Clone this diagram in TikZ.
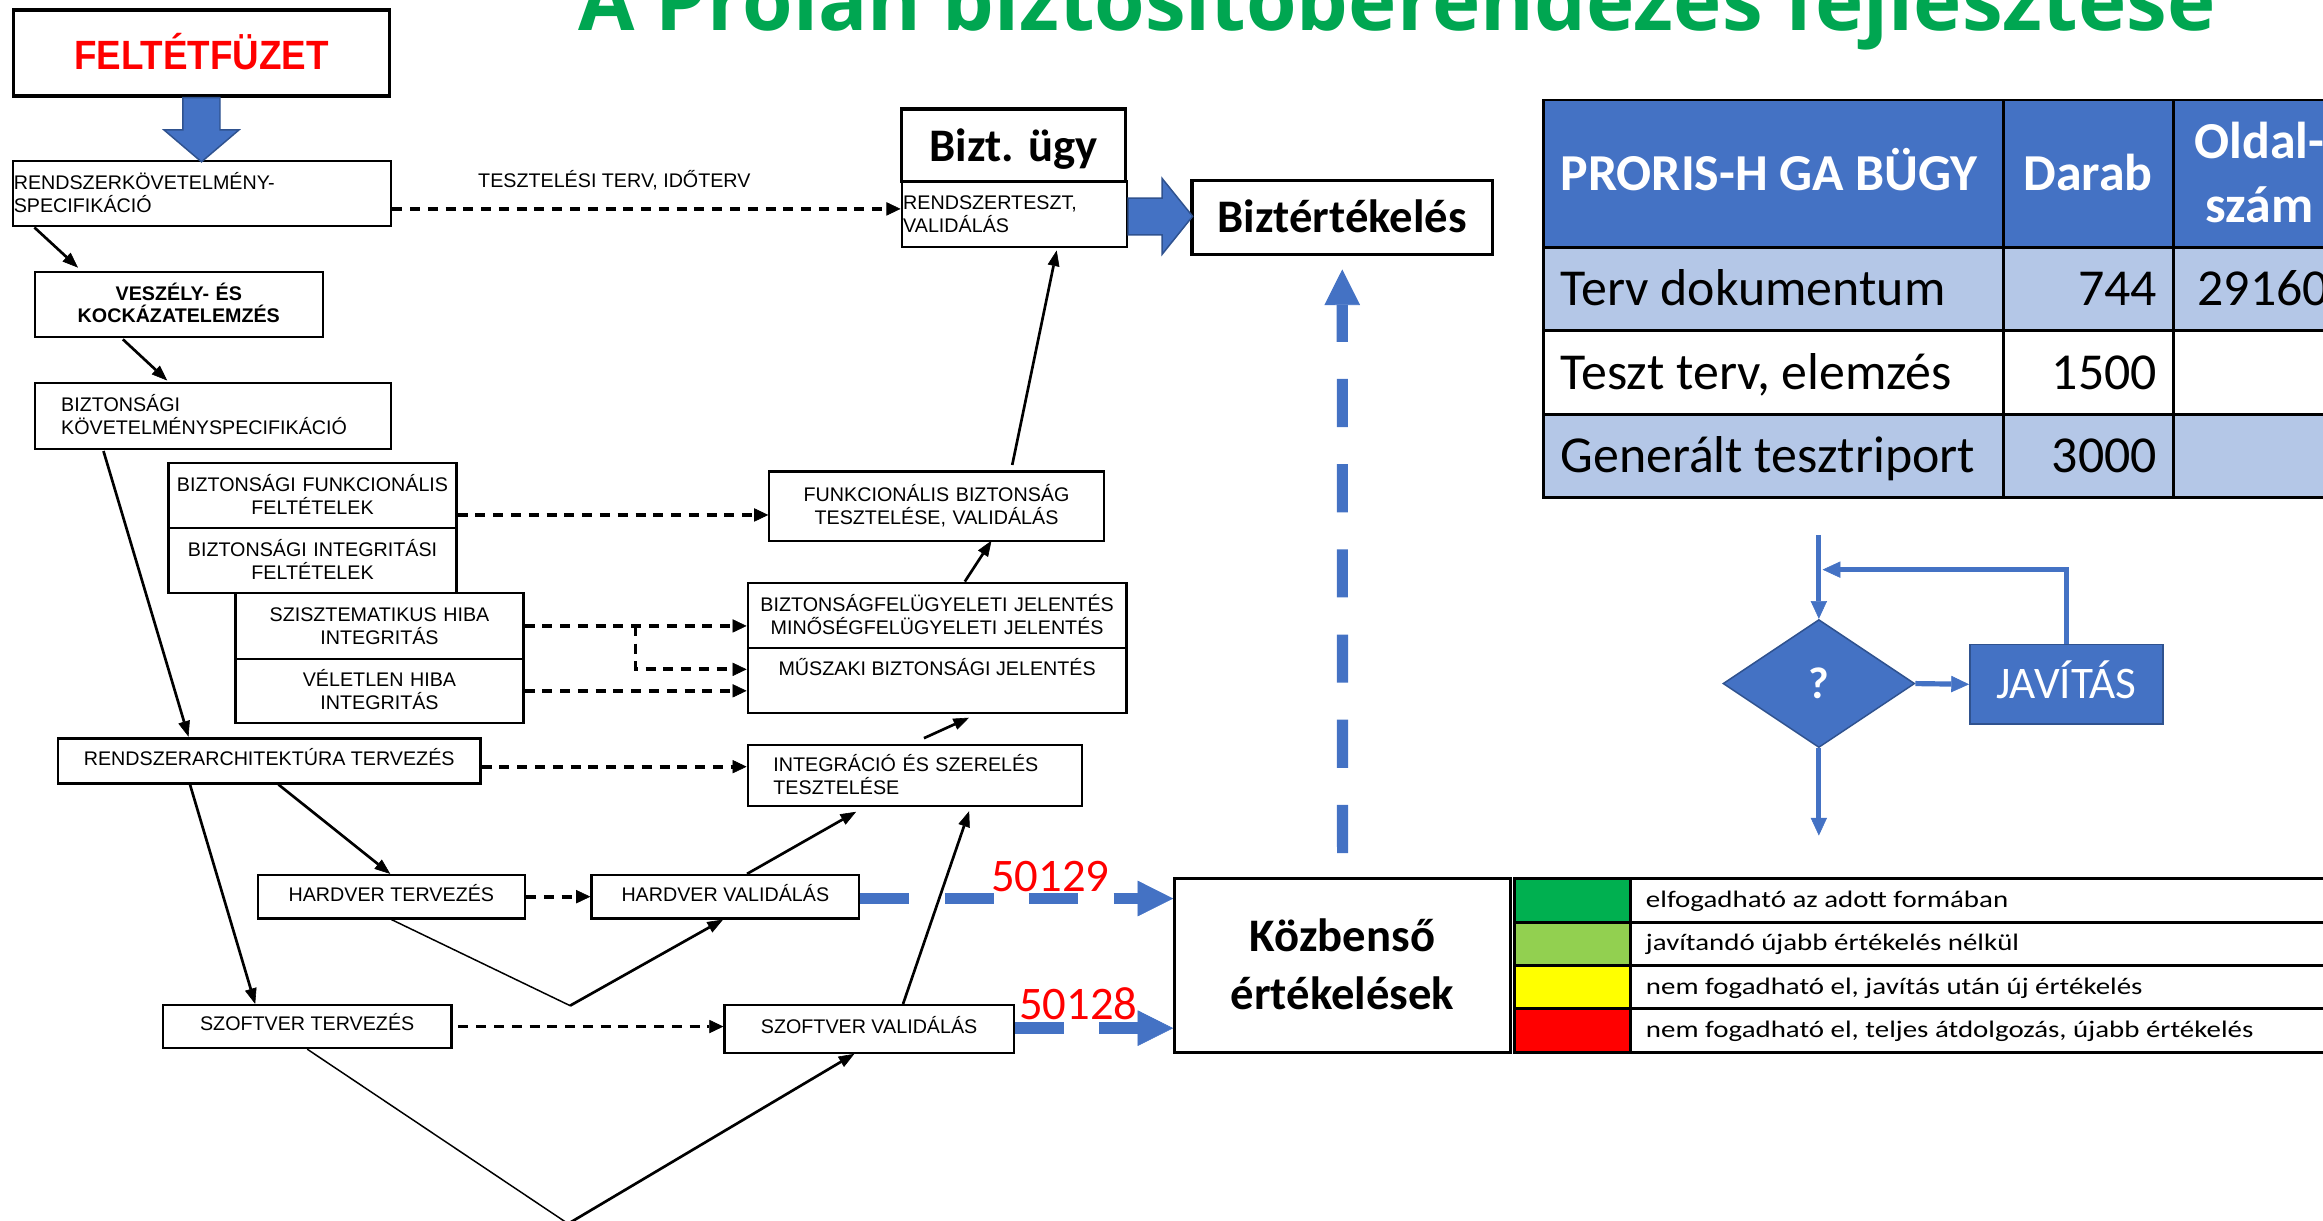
\documentclass[tikz,border=0pt]{standalone}
\usepackage{fontspec}
\setmainfont{Liberation Sans}
\newfontfamily\calfont{Carlito}
\newfontfamily\legfont[FakeStretch=1.22]{Carlito}
\newfontfamily\feltfont[FakeStretch=0.9]{Liberation Sans}
\newfontfamily\titlefont{Open Sans}
\usetikzlibrary{arrows.meta,shapes.geometric,calc}
\definecolor{pblue}{HTML}{4472C4}
\definecolor{pdark}{HTML}{2F528F}
\definecolor{plight}{HTML}{B4C7E7}
\definecolor{pgreen}{HTML}{00A651}
\definecolor{lgreen}{HTML}{00B050}
\definecolor{lgreentwo}{HTML}{92D050}
\definecolor{lyellow}{HTML}{FFFF00}
\definecolor{lred}{HTML}{FF0000}
\begin{document}
\begin{tikzpicture}[x=1pt,y=-1pt,
  box/.style={draw, line width=1.5pt, inner sep=0pt, align=center, font=\fontsize{13.3}{15.5}\selectfont},
  thickbox/.style={box, line width=2.2pt},
  oneline/.style={text height=9.5pt, text depth=3.5pt},
  twoline/.style={text height=9.5pt, text depth=15.5pt},
  arr/.style={line width=1.8pt, -{Triangle[length=10.5pt,width=8pt,line width=0.4pt]}},
  thinline/.style={line width=1pt},
  dasharr/.style={line width=2.5pt, dash pattern=on 6.75pt off 5.25pt, -{Triangle[length=9.5pt,width=9pt,line width=0.4pt]}},
  bluedash/.style={pblue, line width=8pt, dash pattern=on 33pt off 24pt, -{Triangle[length=24pt,width=24pt,line width=0.4pt]}},
  blockarrow/.style={fill=pblue, draw=pdark, line width=1pt, line join=miter},
  flow/.style={pblue, line width=3.5pt, -{Triangle[length=12pt,width=11pt,line width=0.4pt]}},
  tcell/.style={draw, line width=2pt, inner sep=0pt, font=\calfont\fontsize{35}{43.4}\selectfont, text height=22.1pt, text depth=0pt},
  lcell/.style={draw, line width=2pt, inner sep=0pt, font=\legfont\fontsize{16}{19}\selectfont, text height=9.4pt, text depth=0pt},
  rednum/.style={text=lred, inner sep=0pt, anchor=base, font=\calfont\fontsize{31.5}{36}\selectfont}
]
\useasboundingbox (0,0) rectangle (1568,824);
\clip (0,0) rectangle (1568,824);

% title
\node[anchor=base west, inner sep=0pt, text=pgreen, font=\titlefont\bfseries\fontsize{55.2}{60}\selectfont] (title) at (390,20.7) {A Prolan biztosítóberendezés fejlesztése};

% left column boxes
\node[thickbox, minimum width=253.4pt, minimum height=58pt, text height=21.8pt, text depth=0pt, text=lred, font=\feltfont\bfseries\fontsize{27.6}{30}\selectfont] (felt) at (136,35.8) {FELTÉTFÜZET};
\node[box, twoline, text depth=14.5pt, minimum width=255.4pt, minimum height=43.8pt, text width=254pt, align=left] (req) at (136.3,130.4) {RENDSZERKÖVETELMÉNY-\\SPECIFIKÁCIÓ};
\node[box, twoline, text depth=14.5pt, minimum width=194.6pt, minimum height=43.9pt, text width=194.6pt, font=\bfseries\fontsize{13.3}{14.5}\selectfont] (haz) at (120.7,205.35) {VESZÉLY- ÉS\\KOCKÁZATELEMZÉS};
\node[box, twoline, minimum width=240.6pt, minimum height=44.7pt, text width=204.8pt, align=left] (bsr) at (143.7,280.65) {BIZTONSÁGI\\KÖVETELMÉNYSPECIFIKÁCIÓ};
\node[box, twoline, minimum width=194.5pt, minimum height=43.9pt, text width=194.5pt] (bf) at (210.95,334.55) {BIZTONSÁGI FUNKCIONÁLIS\\FELTÉTELEK};
\node[box, twoline, minimum width=194.5pt, minimum height=43.9pt, text width=194.5pt] (bi) at (210.95,378.45) {BIZTONSÁGI INTEGRITÁSI\\FELTÉTELEK};
\node[box, twoline, minimum width=194.3pt, minimum height=44.2pt, text width=194.3pt] (sh) at (256.15,422.5) {SZISZTEMATIKUS HIBA\\INTEGRITÁS};
\node[box, twoline, minimum width=194.3pt, minimum height=43.4pt, text width=194.3pt] (vh) at (256.15,466.3) {VÉLETLEN HIBA\\INTEGRITÁS};
\node[box, oneline, minimum width=285.4pt, minimum height=30.4pt] (ra) at (181.7,513.6) {RENDSZERARCHITEKTÚRA TERVEZÉS};
\node[box, oneline, minimum width=180.3pt, minimum height=29.3pt] (hwt) at (264.15,605.25) {HARDVER TERVEZÉS};
\node[box, oneline, minimum width=180.8pt, minimum height=29.4pt] (hwv) at (489.6,605.3) {HARDVER VALIDÁLÁS};
\node[box, oneline, minimum width=194.7pt, minimum height=29pt] (swt) at (207.35,692.9) {SZOFTVER TERVEZÉS};
\node[box, oneline, minimum width=195.3pt, minimum height=32.2pt] (swv) at (586.65,694.5) {SZOFTVER VALIDÁLÁS};

% middle column boxes
\node[box, twoline, minimum width=225.7pt, minimum height=47pt, text width=225.7pt] (fbt) at (632.15,341.7) {FUNKCIONÁLIS BIZTONSÁG\\TESZTELÉSE, VALIDÁLÁS};
\node[box, twoline, minimum width=255.7pt, minimum height=44.3pt, text width=255.7pt] (bfj) at (632.55,415.45) {BIZTONSÁGFELÜGYELETI JELENTÉS\\MINŐSÉGFELÜGYELETI JELENTÉS};
\node[box, text height=9.5pt, text depth=17.2pt, minimum width=255.7pt, minimum height=43.9pt] (msz) at (632.55,459.55) {MŰSZAKI BIZTONSÁGI JELENTÉS};
\node[box, twoline, text depth=14.6pt, minimum width=225.7pt, minimum height=41.1pt, text width=191pt, align=left] (int) at (617.55,523.45) {INTEGRÁCIÓ ÉS SZERELÉS\\TESZTELÉSE};
\node[thickbox, minimum width=151.1pt, minimum height=49pt, text height=22pt, text depth=0pt, font=\calfont\bfseries\fontsize{31.5}{36}\selectfont] (bu) at (684.15,98) {Bizt. ügy};
\node[box, twoline, text depth=16.4pt, minimum width=152.1pt, minimum height=44.3pt, text width=150pt, align=left] (rt) at (684.65,144.65) {RENDSZERTESZT,\\VALIDÁLÁS};
\node[thickbox, minimum width=202.8pt, minimum height=49.8pt, text height=20pt, text depth=0pt, font=\calfont\bfseries\fontsize{31.5}{36}\selectfont] (bert) at (906,146.7) {Biztértékelés};
\node[thickbox, minimum width=226.4pt, minimum height=117.7pt, text width=226.4pt, text height=20.3pt, text depth=39.3pt, font=\calfont\bfseries\fontsize{31.5}{39.3}\selectfont] (kozb) at (906.2,651.75) {Közbenső\\értékelések};

% table
\node[tcell, fill=pblue, text=white, font=\calfont\bfseries\fontsize{35}{43.4}\selectfont, minimum width=310.1pt, minimum height=99.7pt] (h1) at (1196.95,117.35) {\makebox[287.3pt][l]{PRORIS-H GA BÜGY}};
\node[tcell, fill=pblue, text=white, font=\calfont\bfseries\fontsize{35}{43.4}\selectfont, minimum width=115pt, minimum height=99.7pt] (h2) at (1409.5,117.35) {Darab};
\node[tcell, fill=pblue, text=white, align=center, text width=116pt, text depth=43.4pt, font=\calfont\bfseries\fontsize{35}{43.4}\selectfont, minimum width=116pt, minimum height=99.7pt] (h3) at (1525,117.35) {Oldal-\\szám};
\node[tcell, fill=plight, minimum width=310.1pt, minimum height=56.2pt] (r1a) at (1196.95,195.3) {\makebox[287.3pt][l]{Terv dokumentum}};
\node[tcell, fill=plight, minimum width=115pt, minimum height=56.2pt] (r1b) at (1409.5,195.3) {\makebox[93pt][r]{744}};
\node[tcell, fill=plight, minimum width=116pt, minimum height=56.2pt] (r1c) at (1525,195.3) {\makebox[94pt][r]{29160}};
\node[tcell, fill=white, minimum width=310.1pt, minimum height=56.3pt] (r2a) at (1196.95,251.55) {\makebox[287.3pt][l]{Teszt terv, elemzés}};
\node[tcell, fill=white, minimum width=115pt, minimum height=56.3pt] (r2b) at (1409.5,251.55) {\makebox[93pt][r]{1500}};
\node[tcell, fill=white, minimum width=116pt, minimum height=56.3pt] (r2c) at (1525,251.55) {};
\node[tcell, fill=plight, minimum width=310.1pt, minimum height=56.2pt] (r3a) at (1196.95,307.8) {\makebox[287.3pt][l]{Generált tesztriport}};
\node[tcell, fill=plight, minimum width=115pt, minimum height=56.2pt] (r3b) at (1409.5,307.8) {\makebox[93pt][r]{3000}};
\node[tcell, fill=plight, minimum width=116pt, minimum height=56.2pt] (r3c) at (1525,307.8) {};

% legend
\node[lcell, fill=lgreen, minimum width=78pt, minimum height=29.4pt] (lc1) at (1061.4,607.7) {};
\node[lcell, fill=lgreentwo, minimum width=78pt, minimum height=29.2pt] (lc2) at (1061.4,637) {};
\node[lcell, fill=lyellow, minimum width=78pt, minimum height=29.4pt] (lc3) at (1061.4,666.3) {};
\node[lcell, fill=lred, minimum width=78pt, minimum height=29.7pt] (lc4) at (1061.4,695.85) {};
\node[lcell, minimum width=499.6pt, minimum height=29.4pt] (lt1) at (1350.2,607.7) {\makebox[478.4pt][l]{elfogadható az adott formában}};
\node[lcell, minimum width=499.6pt, minimum height=29.2pt] (lt2) at (1350.2,637) {\makebox[478.4pt][l]{javítandó újabb értékelés nélkül}};
\node[lcell, minimum width=499.6pt, minimum height=29.4pt] (lt3) at (1350.2,666.3) {\makebox[478.4pt][l]{nem fogadható el, javítás után új értékelés}};
\node[lcell, minimum width=499.6pt, minimum height=29.7pt] (lt4) at (1350.2,695.85) {\makebox[478.4pt][l]{nem fogadható el, teljes átdolgozás, újabb értékelés}};

% flowchart
\node[diamond, fill=pblue, draw=pdark, line width=1pt, minimum width=129.4pt, minimum height=86.4pt, inner sep=0pt, text=white, font=\calfont\bfseries\fontsize{30}{36}\selectfont] (dia) at (1227.7,461.4) {?};
\node[fill=pblue, draw=pdark, line width=1pt, minimum width=130.4pt, minimum height=53.6pt, inner sep=0pt, text=white, font=\calfont\fontsize{30.5}{36}\selectfont, text height=19.7pt, text depth=0pt] (jav) at (1394.8,461.9) {JAVÍTÁS};
\coordinate (ftop) at (dia.north |- 0,361);
\coordinate (fbot) at (dia.south |- 0,564);
\coordinate (fret) at ($(dia.north |- 0,384.5)+(2.5,0)$);
\draw[flow] (ftop) -- (dia.north);
\draw[flow] (dia.east) -- (jav.west);
\draw[flow] (dia.south) -- (fbot);
\draw[flow] (jav.north) |- (fret);

% blue block arrows
\draw[blockarrow] ($(felt.south)+(-12.5,0)$) -- ($(felt.south)+(-12.5,21.8)$) -- ($(felt.south)+(-25.3,21.8)$) -- ($(req.north)+(-0.3,1.5)$) -- ($(felt.south)+(25.3,21.8)$) -- ($(felt.south)+(12.5,21.8)$) -- ($(felt.south)+(12.5,0)$) -- cycle;
\draw[blockarrow] ($(rt.east)+(0,-10.95)$) -- ($(rt.east)+(23,-10.95)$) -- ($(rt.east)+(23,-24.15)$) -- ($(bert.west)+(1.5,-0.7)$) -- ($(rt.east)+(23,26.95)$) -- ($(rt.east)+(23,13.95)$) -- ($(rt.east)+(0,13.95)$) -- cycle;

% blue dashed arrows
\coordinate (vb) at ($(kozb.north)+(0,-16)$);
\coordinate (vt) at ($(bert.south)+(0,9.2)$);
\draw[bluedash, line width=7.5pt, dash pattern=on 32.5pt off 25pt] (vb) -- (vt);
\draw[bluedash] (hwv.east |- 0,606.5) -- node[rednum, pos=0.607, yshift=4.6pt] (n50129) {50129} (kozb.west |- 0,606.5);
\draw[bluedash] (swv.east |- 0,694) -- node[rednum, pos=0.401, yshift=6pt] (n50128) {50128} (kozb.west |- 0,694);

% dashed black connectors
\draw[dasharr] (req.east |- 0,141) -- node[pos=0.437, anchor=base, yshift=14.3pt, inner sep=0pt, font=\fontsize{13.3}{15}\selectfont] (lbl) {TESZTELÉSI TERV, IDŐTERV} (rt.west |- 0,141);
\draw[dasharr] (bf.east |- 0,347.6) -- (fbt.west |- 0,347.6);
\draw[dasharr] (sh.east) -- (bfj.west |- sh.east);
\path (sh.east) -- (bfj.west |- sh.east) coordinate[pos=0.5] (brk);
\draw[dasharr] (brk) |- (msz.west |- 0,451.8);
\draw[dasharr] (vh.east) -- (msz.west |- vh.east);
\draw[dasharr] (ra.east |- 0,517.5) -- (int.west |- 0,517.5);
\draw[dasharr] (hwt.east) -- (hwv.west |- hwt.east);
\draw[dasharr] ([xshift=4pt]swt.east) -- (swv.west |- swt.east);

% solid black connectors
\draw[arr] ($(req.south west)+(15.4,0.5)$) -- ($(haz.north west)+(30,-2)$);
\draw[arr] ($(haz.south west)+(60.3,1)$) -- ($(bsr.north west)+(90.2,-0.7)$);
\draw[arr] ($(bsr.south west)+(47.2,0.7)$) -- ($(ra.north west)+(89,-0.4)$);
\draw[arr] ($(ra.south west)+(149.7,0)$) -- ($(hwt.north)+(-0.75,0)$);
\draw[arr] ($(ra.south west)+(90,0)$) -- ($(swt.north west)+(63,0)$);
\draw[arr] ($(hwv.north west)+(105.8,0)$) -- ($(int.south west)+(73.9,3.2)$);
\draw[arr] ($(swv.north west)+(121.3,0)$) -- ($(int.south west)+(150.2,2.8)$);
\draw[arr] ($(int.north west)+(119.7,-3.9)$) -- ($(msz.south west)+(150.1,2.2)$);
\draw[arr] ($(bfj.north west)+(147.3,0)$) -- ($(fbt.south west)+(150.7,-1)$);
\draw[arr] ($(fbt.north west)+(164.7,-3.6)$) -- ($(rt.south west)+(105.4,1.5)$);

% V-model legs
\coordinate (hv) at (384.8,678.8);
\draw[thinline] (hwt.south) -- (hv);
\draw[arr] (hv) -- ($(hwv.south)+(-1.6,0)$);
\coordinate (sv) at (383.5,826);
\draw[thinline] (swt.south) -- (sv);
\draw[arr] (sv) -- ($(swv.south west)+(88.4,0)$);
\end{tikzpicture}
\end{document}
